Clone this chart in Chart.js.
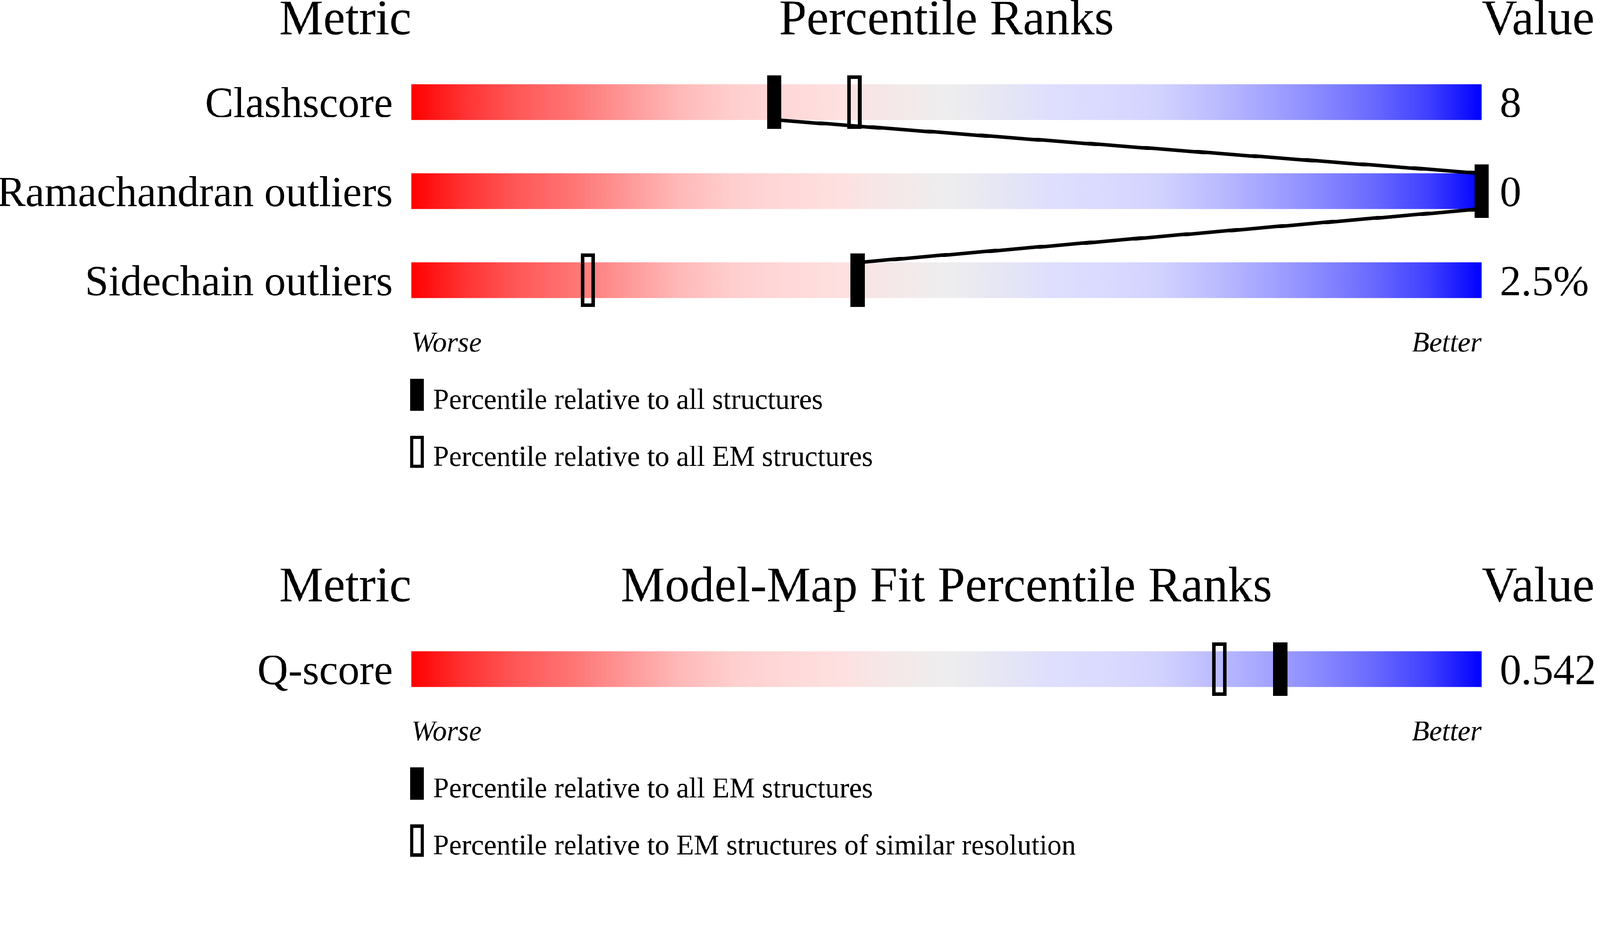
<!DOCTYPE html>
<html>
<head>
<meta charset="utf-8">
<title>Percentile ranks</title>
<script src="https://cdn.jsdelivr.net/npm/chart.js@4.4.1/dist/chart.umd.min.js"></script>
<style>
  html, body { margin: 0; padding: 0; background: #fff; overflow: hidden; }
  #page { position: absolute; left: 0; top: 0; width: 4485px; height: 2402px; transform-origin: 0 0; }
  .panel { position: absolute; left: 0; width: 4485px; }
  #p1 { top: 0; height: 1400px; }
  #p2 { top: 1400px; height: 1002px; }
</style>
</head>
<body>
<div id="page">
  <div class="panel" id="p1"><canvas id="geomChart" width="4485" height="1400"></canvas></div>
  <div class="panel" id="p2"><canvas id="fitChart" width="4485" height="1002"></canvas></div>
</div>
<script>
// --- dados: painel de geometria
const geomMetrics = ['Clashscore', 'Ramachandran outliers', 'Sidechain outliers'];
const geomValues = ['8', '0', '2.5%'];
const geomPctAll = [33.9, 100, 41.7];   // marcador cheio
const geomPctEM = [41.4, 100, 16.5];    // marcador vazado
const geomTitle = 'Percentile Ranks';
const geomLegend = ['Percentile relative to all structures', 'Percentile relative to all EM structures'];

// --- dados: painel model-map fit
const fitMetrics = ['Q-score'];
const fitValues = ['0.542'];
const fitPctEM = [81.2];        // marcador cheio
const fitPctSimilar = [75.5];   // marcador vazado
const fitTitle = 'Model-Map Fit Percentile Ranks';
const fitLegend = ['Percentile relative to all EM structures', 'Percentile relative to EM structures of similar resolution'];

const rankMin = 0;
const rankMax = 100;
const metricHeader = 'Metric';
const valueHeader = 'Value';
const worseLabel = 'Worse';
const betterLabel = 'Better';

// --- estilo
const PAGE_W = 4485;
const SERIF = "'Liberation Serif', 'Times New Roman', serif";
const ROW_H = 250, BAR_H = 100;
const MARK_W = 40, MARK_H = 150, MARK_LINE = 10;
const GRADIENT_STOPS = [
  [0, '#ff0000'], [0.05, '#ff3333'], [0.1, '#ff5858'], [0.15, '#ff7474'],
  [0.2, '#ff9696'], [0.25, '#ffb8b8'], [0.3, '#ffcece'], [0.35, '#ffd8d8'],
  [0.4, '#fee0e0'], [0.45, '#f4e8e8'], [0.5, '#eeeeee'], [0.55, '#e6e6f4'],
  [0.6, '#dedefe'], [0.65, '#dadaff'], [0.7, '#d2d2ff'], [0.75, '#bcbcff'],
  [0.8, '#a4a4ff'], [0.85, '#8888ff'], [0.9, '#6868ff'], [0.95, '#4040ff'],
  [1, '#0000ff']
];

// ajusta a página desenhada em 4485px à largura real da janela
const pageScale = (window.innerWidth || PAGE_W) / PAGE_W;
document.getElementById('page').style.transform = `scale(${pageScale})`;

function makeMarker(filled) {
  const c = document.createElement('canvas');
  c.width = MARK_W; c.height = MARK_H;
  const g = c.getContext('2d');
  g.fillStyle = '#000';
  if (filled) {
    g.fillRect(0, 0, MARK_W, MARK_H);
  } else {
    g.fillRect(0, 0, MARK_W, MARK_LINE);
    g.fillRect(0, MARK_H - MARK_LINE, MARK_W, MARK_LINE);
    g.fillRect(0, 0, MARK_LINE, MARK_H);
    g.fillRect(MARK_W - MARK_LINE, 0, MARK_LINE, MARK_H);
  }
  return c;
}
const filledMark = makeMarker(true);
const openMark = makeMarker(false);

function gradientFill(ctx) {
  const chart = ctx.chart;
  const xs = chart.scales.x;
  if (!chart.chartArea || !xs) return '#eeeeee';
  const g = chart.ctx.createLinearGradient(xs.getPixelForValue(rankMin), 0, xs.getPixelForValue(rankMax), 0);
  GRADIENT_STOPS.forEach(([p, c]) => g.addColorStop(p, c));
  return g;
}

// cabeçalhos, Worse/Better e legenda
const decorPlugin = {
  id: 'decor',
  afterDraw(chart, args, opts) {
    const { ctx, chartArea: a } = chart;
    ctx.save();
    ctx.fillStyle = '#000';
    ctx.strokeStyle = '#000';
    ctx.textBaseline = 'alphabetic';

    ctx.font = `139px ${SERIF}`;
    const hy = a.top - 65;
    ctx.textAlign = 'right';
    ctx.fillText(metricHeader, a.left, hy);
    ctx.textAlign = 'center';
    ctx.fillText(opts.title, (a.left + a.right) / 2, hy);
    ctx.textAlign = 'left';
    ctx.fillText(valueHeader, a.right, hy);

    ctx.font = `italic 80px ${SERIF}`;
    const wy = a.bottom + 75;
    ctx.textAlign = 'left';
    ctx.fillText(worseLabel, a.left, wy);
    ctx.textAlign = 'right';
    ctx.fillText(betterLabel, a.right, wy);

    ctx.font = `80px ${SERIF}`;
    ctx.textAlign = 'left';
    opts.legend.forEach((txt, i) => {
      const top = a.bottom + 151 + i * 160;
      const mx = a.left - 3;
      if (i === 0) {
        ctx.fillRect(mx, top, 38, 90);
      } else {
        ctx.lineWidth = 9;
        ctx.strokeRect(mx + 4.5, top + 4.5, 38 - 9, 90 - 9);
      }
      ctx.fillText(txt, a.left + 61, a.bottom + 235 + i * 160);
    });
    ctx.restore();
  }
};

function buildPanel(canvasId, cfg) {
  const n = cfg.metrics.length;
  const rows = cfg.metrics.map((_, i) => i);
  const halfBar = BAR_H / ROW_H / 2;

  // linha ligando os marcadores cheios (base de uma barra ao topo da seguinte)
  const links = [];
  for (let i = 0; i < n - 1; i++) {
    links.push({ x: cfg.pctFilled[i], y: i + halfBar });
    links.push({ x: cfg.pctFilled[i + 1], y: i + 1 - halfBar });
  }

  const tickFont = { family: SERIF, size: 120 };
  const yCommon = {
    type: 'linear', axis: 'y', min: -0.5, max: n - 0.5, reverse: true, offset: false,
    grid: { display: false }, border: { display: false },
    afterBuildTicks: s => { s.ticks = rows.map(v => ({ value: v })); }
  };

  return new Chart(document.getElementById(canvasId), {
    data: {
      datasets: [
        {
          type: 'scatter', label: cfg.legend[0],
          data: cfg.pctFilled.map((p, i) => ({ x: p, y: i })),
          pointStyle: filledMark, pointRadius: 20, order: 0, clip: false,
          xAxisID: 'x', yAxisID: 'y'
        },
        {
          type: 'line', label: 'link', data: links,
          borderColor: '#000', borderWidth: 10, borderJoinStyle: 'bevel',
          pointRadius: 0, fill: false, tension: 0, order: 1, clip: false,
          xAxisID: 'x', yAxisID: 'y'
        },
        {
          type: 'scatter', label: cfg.legend[1],
          data: cfg.pctOpen.map((p, i) => ({ x: p, y: i })),
          pointStyle: openMark, pointRadius: 20, order: 2, clip: false,
          xAxisID: 'x', yAxisID: 'y'
        },
        {
          type: 'bar', label: 'range',
          data: rows.map(i => ({ x: [rankMin, rankMax], y: i })),
          backgroundColor: gradientFill, borderWidth: 0, barThickness: BAR_H,
          order: 3, xAxisID: 'x', yAxisID: 'y'
        }
      ]
    },
    options: {
      indexAxis: 'y',
      responsive: false,
      devicePixelRatio: 1,
      animation: false,
      events: [],
      layout: { padding: { top: cfg.padTop, bottom: cfg.padBottom, left: 0, right: 0 } },
      scales: {
        x: { type: 'linear', min: rankMin, max: rankMax, display: false, offset: false },
        y: Object.assign({}, yCommon, {
          position: 'left',
          afterFit: s => { s.width = 1153; },
          ticks: {
            autoSkip: false, padding: 44, labelOffset: 10, color: '#000', font: tickFont,
            callback: v => cfg.metrics[v]
          }
        }),
        y2: Object.assign({}, yCommon, {
          position: 'right',
          afterFit: s => { s.width = 332; },
          ticks: {
            autoSkip: false, padding: 43, labelOffset: 10, color: '#000', font: tickFont,
            callback: v => cfg.values[v]
          }
        })
      },
      plugins: {
        legend: { display: false },
        tooltip: { enabled: false },
        decor: { title: cfg.title, legend: cfg.legend }
      }
    },
    plugins: [decorPlugin]
  });
}

buildPanel('geomChart', {
  metrics: geomMetrics, values: geomValues,
  pctFilled: geomPctAll, pctOpen: geomPctEM,
  title: geomTitle, legend: geomLegend,
  padTop: 161, padBottom: 489
});

buildPanel('fitChart', {
  metrics: fitMetrics, values: fitValues,
  pctFilled: fitPctEM, pctOpen: fitPctSimilar,
  title: fitTitle, legend: fitLegend,
  padTop: 351, padBottom: 401
});
</script>
</body>
</html>
